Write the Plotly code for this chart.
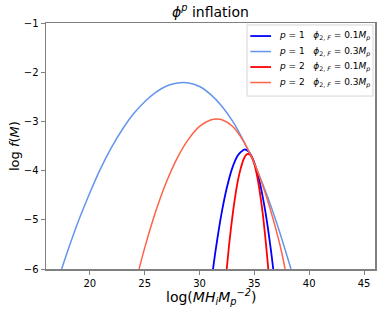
import plotly.graph_objects as go

# p=1, phi=0.3 Mp (light blue)
x_p1_03 = [17.43, 18, 19, 20, 21, 22, 23, 24, 25, 26, 27, 28, 28.55, 29, 30, 31, 32, 33, 34, 35, 36, 37, 38, 38.34]
y_p1_03 = [-6.0, -5.62, -5.00, -4.45, -3.95, -3.52, -3.15, -2.84, -2.60, -2.41, -2.28, -2.22, -2.21, -2.22, -2.29, -2.45, -2.68, -2.99, -3.39, -3.86, -4.41, -5.04, -5.75, -6.0]

# p=2, phi=0.3 Mp (tomato)
x_p2_03 = [24.49, 25, 26, 27, 28, 29, 30, 31, 31.6, 32, 33, 34, 35, 36, 37, 37.5, 37.8]
y_p2_03 = [-6.0, -5.57, -4.83, -4.22, -3.73, -3.36, -3.10, -2.97, -2.95, -2.96, -3.10, -3.40, -3.85, -4.46, -5.22, -5.67, -6.0]

# p=1, phi=0.1 Mp (blue)
x_p1_01 = [31.23, 31.5, 32, 32.5, 33, 33.5, 34, 34.14, 34.5, 35, 35.5, 36, 36.5, 36.72]
y_p1_01 = [-6.0, -5.57, -4.88, -4.34, -3.94, -3.69, -3.58, -3.57, -3.62, -3.84, -4.25, -4.83, -5.60, -6.0]

# p=2, phi=0.1 Mp (red)
x_p2_01 = [32.48, 32.75, 33, 33.25, 33.5, 33.75, 34, 34.25, 34.45, 34.75, 35, 35.25, 35.5, 35.75, 36, 36.27]
y_p2_01 = [-6.0, -5.40, -4.93, -4.53, -4.20, -3.96, -3.78, -3.68, -3.66, -3.72, -3.87, -4.11, -4.44, -4.85, -5.36, -6.0]

x_ticks = [20, 25, 30, 35, 40, 45]
y_ticks = [-1, -2, -3, -4, -5, -6]

names = [
    "<i>p</i> = 1&nbsp;&nbsp;&nbsp;<i>ϕ</i><sub>2, <i>F</i></sub> = 0.1<i>M<sub>p</sub></i>",
    "<i>p</i> = 1&nbsp;&nbsp;&nbsp;<i>ϕ</i><sub>2, <i>F</i></sub> = 0.3<i>M<sub>p</sub></i>",
    "<i>p</i> = 2&nbsp;&nbsp;&nbsp;<i>ϕ</i><sub>2, <i>F</i></sub> = 0.1<i>M<sub>p</sub></i>",
    "<i>p</i> = 2&nbsp;&nbsp;&nbsp;<i>ϕ</i><sub>2, <i>F</i></sub> = 0.3<i>M<sub>p</sub></i>",
]
series = [
    (x_p1_01, y_p1_01, "#0000ff", 1.8),
    (x_p1_03, y_p1_03, "#6495ED", 1.5),
    (x_p2_01, y_p2_01, "#ff0000", 1.8),
    (x_p2_03, y_p2_03, "#FF6347", 1.5),
]

fig = go.Figure()
for (xs, ys, c, w), n in zip(series, names):
    fig.add_trace(go.Scatter(x=xs, y=ys, mode="lines", name=n, showlegend=False,
                             line=dict(color=c, width=w, shape="spline", smoothing=1.0)))

axis_common = dict(showline=True, linecolor="#808080", linewidth=1.5, mirror=True,
                   ticks="outside", ticklen=4, tickcolor="#808080", tickwidth=1,
                   showgrid=False, zeroline=False, automargin=False,
                   tickfont=dict(family="DejaVu Sans", size=10, color="black"))

# custom legend (box, key lines, labels) in paper coordinates
leg_rows = [0.947, 0.884, 0.821, 0.758]
shapes = [dict(type="rect", xref="paper", yref="paper", x0=0.611, x1=0.994, y0=0.703, y1=0.992,
               line=dict(color="#d5d5d5", width=1), fillcolor="white", layer="above")]
annotations = []
for (xs, ys, c, w), n, ry in zip(series, names, leg_rows):
    shapes.append(dict(type="line", xref="paper", yref="paper", x0=0.621, x1=0.684, y0=ry, y1=ry,
                       line=dict(color=c, width=w), layer="above"))
    annotations.append(dict(text=n, xref="paper", yref="paper", x=0.703, y=ry,
                            xanchor="left", yanchor="middle", showarrow=False,
                            font=dict(size=9)))

annotations += [
    dict(text="<i>ϕ</i><sup><i>p</i></sup> inflation", xref="paper", yref="paper",
         x=0.5, y=1, yshift=12, xanchor="center", yanchor="middle",
         showarrow=False, font=dict(size=14)),
    dict(text="log(<i>MH<sub>i</sub>M<sub>p</sub><sup>−2</sup></i>)", xref="paper", yref="paper",
         x=0.5, y=0, yshift=-28, xanchor="center", yanchor="middle",
         showarrow=False, font=dict(size=14)),
    dict(text="log <i>f</i>(<i>M</i>)", xref="paper", yref="paper",
         x=0, y=0.5, xshift=-32, xanchor="center", yanchor="middle", textangle=-90,
         showarrow=False, font=dict(size=13)),
]

fig.update_layout(
    width=382, height=315,
    margin=dict(l=46, r=7, t=23, b=46),
    plot_bgcolor="white", paper_bgcolor="white",
    font=dict(family="DejaVu Sans", color="black"),
    xaxis=dict(range=[16, 46], tickvals=x_ticks, ticktext=[str(v) for v in x_ticks],
               **axis_common),
    yaxis=dict(range=[-6, -1], tickvals=y_ticks, ticktext=["−1", "−2", "−3", "−4", "−5", "−6"],
               **axis_common),
    showlegend=False,
    shapes=shapes,
    annotations=annotations,
)

fig.write_html("out.html", config={"displayModeBar": False, "staticPlot": True},
               post_script="document.body.style.margin='0';document.body.style.overflow='hidden';")
